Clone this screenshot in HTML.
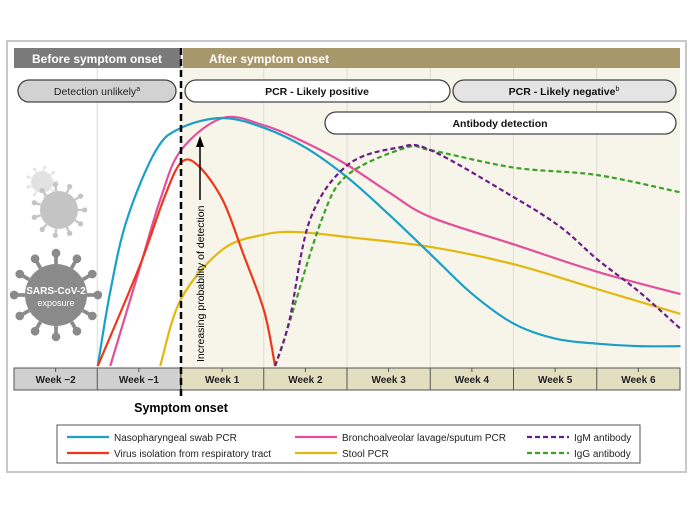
<!DOCTYPE html>
<html><head><meta charset="utf-8"><style>
body{margin:0;background:#fff;font-family:"Liberation Sans",sans-serif}
svg{display:block}
text{font-family:"Liberation Sans",sans-serif}
</style></head><body>
<svg width="700" height="518" viewBox="0 0 700 518">
<rect x="7" y="41" width="679" height="431" fill="#fff" stroke="#c8c8c8" stroke-width="2"/>
<rect x="181" y="68" width="499" height="300" fill="#f7f5e9"/>
<g id="grid"></g>
<rect x="14" y="48" width="167" height="20" fill="#7a7a7a"/>
<rect x="183" y="48" width="497" height="20" fill="#a8976a"/>
<text x="97" y="63" fill="#fff" font-size="12" font-weight="bold" text-anchor="middle">Before symptom onset</text>
<text x="209" y="63" fill="#fff" font-size="12" font-weight="bold">After symptom onset</text>
<g font-size="10.5" text-anchor="middle" stroke-width="1.3">
<rect x="18" y="80" width="158" height="22" rx="11" fill="#d2d2d2" stroke="#444"/>
<text x="97" y="95" fill="#222">Detection unlikely<tspan font-size="7" dy="-4">a</tspan></text>
<rect x="185" y="80" width="265" height="22" rx="11" fill="#fff" stroke="#444"/>
<text x="317" y="95" fill="#111" font-weight="bold">PCR - Likely positive</text>
<rect x="453" y="80" width="223" height="22" rx="11" fill="#e4e4e4" stroke="#444"/>
<text x="564" y="95" fill="#111" font-weight="bold">PCR - Likely negative<tspan font-size="7" font-weight="normal" dy="-4">b</tspan></text>
<rect x="325" y="112" width="351" height="22" rx="11" fill="#fff" stroke="#444"/>
<text x="500" y="127" fill="#111" font-weight="bold">Antibody detection</text>
</g>
<g id="virus"></g>
<g id="curves"></g>
<rect x="14" y="368" width="167" height="22" fill="#d0d0d0" stroke="#555"/>
<rect x="181" y="368" width="499" height="22" fill="#e4dec0" stroke="#555"/>
<g id="axis"></g>
<line x1="181" y1="48" x2="181" y2="400" stroke="#000" stroke-width="2.5" stroke-dasharray="7,4"/>
<text x="181" y="412" font-size="12.5" font-weight="bold" text-anchor="middle">Symptom onset</text>
<line x1="200" y1="200" x2="200" y2="145" stroke="#000" stroke-width="1.5"/>
<polygon points="200,136 196,147 204,147" fill="#000"/>
<text transform="translate(204,362) rotate(-90)" font-size="10.5">Increasing probability of detection</text>
<rect x="57" y="425" width="583" height="38" fill="#fff" stroke="#555" stroke-width="1"/>
<g id="legend" font-size="10"></g>
</svg>
<script>
const weeks=["Week \u22122","Week \u22121","Week 1","Week 2","Week 3","Week 4","Week 5","Week 6"];
const nasoT=[-1,-0.85,-0.65,-0.3,0,0.5,1,1.5,2,2.5,3,3.5,4,4.5,5,5.5,6];
const nasoV=[0,30,59,87,96,100,96,88,76,61,45,29,17,11,9,8,8];
const balT=[-0.85,-0.5,-0.25,0,0.5,1,1.5,2,2.5,3,4,5,6];
const balV=[0,39,67,87,100,97,90,81,70,60,49,38,29];
const virT=[-1,-0.5,-0.2,0,0.2,0.5,0.75,1,1.13];
const virV=[0,40,68,82,81,67,45,22,0];
const stoolT=[-0.25,0,0.5,1,1.4,2,3,4,5,6];
const stoolV=[0,27,47,53,54,52,48,41,31,21];
const igmT=[1.13,1.3,1.55,2,2.6,3,4,4.56,5,5.5,6];
const igmV=[0,18,59,81,88,87,68,56,43,30,15];
const iggT=[1.13,1.27,1.69,2,2.7,3,4,5,6];
const iggV=[0,14,59,77,88,87,80,77,70];
const NS="http://www.w3.org/2000/svg";
const xs=t=>181+t*83.25;
const ys=v=>366-v*2.48;
function mk(tag,attrs,parent){const e=document.createElementNS(NS,tag);for(const k in attrs)e.setAttribute(k,attrs[k]);parent.appendChild(e);return e;}
function path(T,V){const p=T.map((t,i)=>[xs(t),ys(V[i])]);let d="M"+p[0][0]+","+p[0][1];
for(let i=0;i<p.length-1;i++){const p0=p[i-1]||p[i],p1=p[i],p2=p[i+1],p3=p[i+2]||p2;
const c1=[p1[0]+(p2[0]-p0[0])/6,p1[1]+(p2[1]-p0[1])/6],c2=[p2[0]-(p3[0]-p1[0])/6,p2[1]-(p3[1]-p1[1])/6];
d+=` C${c1[0]},${c1[1]} ${c2[0]},${c2[1]} ${p2[0]},${p2[1]}`;}return d;}
const grid=document.getElementById('grid');
for(let i=1;i<8;i++){if(i===2)continue;const l=mk('line',{x1:14+i*83.25,x2:14+i*83.25,y1:68,y2:368,stroke:'#dcdcd6','stroke-width':1},grid);

}
const axis=document.getElementById('axis');
weeks.forEach((w,i)=>{const cx=14+(i+0.5)*83.25;
if(i>0){const s=mk('line',{x1:14+i*83.25,x2:14+i*83.25,y1:368,y2:390,stroke:'#555'},axis);}
const tk=mk('line',{x1:cx,x2:cx,y1:368,y2:372,stroke:'#555'},axis);


const t=mk('text',{x:cx,y:383,'font-size':10,'text-anchor':'middle','font-weight':'bold',fill:'#222'},axis);t.textContent=w;

});
const curves=document.getElementById('curves');
const series=[[stoolT,stoolV,'#e2b80f',null,'stool-pcr-curve'],[balT,balV,'#e2509b',null,'bal-sputum-pcr-curve'],[nasoT,nasoV,'#1aa0c8',null,'nasopharyngeal-pcr-curve'],[virT,virV,'#f0361a',null,'virus-isolation-curve'],[iggT,iggV,'#3aa028','5,3','igg-antibody-curve'],[igmT,igmV,'#6a1e8a','5,3','igm-antibody-curve']];
series.forEach(s=>{const a={d:path(s[0],s[1]),fill:'none',stroke:s[2],'stroke-width':2.2};if(s[3])a['stroke-dasharray']=s[3];
const e=mk('path',a,curves);

});
const lg=document.getElementById('legend');
const items=[[67,437,'#1aa0c8',null,'Nasopharyngeal swab PCR'],[67,453,'#f0361a',null,'Virus isolation from respiratory tract'],[295,437,'#e2509b',null,'Bronchoalveolar lavage/sputum PCR'],[295,453,'#e2b80f',null,'Stool PCR'],[527,437,'#6a1e8a','5,3','IgM antibody'],[527,453,'#3aa028','5,3','IgG antibody']];
items.forEach(it=>{const a={x1:it[0],x2:it[0]+42,y1:it[1],y2:it[1],stroke:it[2],'stroke-width':2.2};if(it[3])a['stroke-dasharray']=it[3];
const l=mk('line',a,lg);


const t=mk('text',{x:it[0]+47,y:it[1]+4,fill:'#222'},lg);t.textContent=it[4];

});
const vg=document.getElementById('virus');
function virus(cx,cy,r,col,n){const g=mk('g',{fill:col},vg);mk('circle',{cx,cy,r},g);
for(let i=0;i<n;i++){const a=i*2*Math.PI/n;const x1=cx+Math.cos(a)*r,y1=cy+Math.sin(a)*r,x2=cx+Math.cos(a)*r*1.35,y2=cy+Math.sin(a)*r*1.35;
mk('line',{x1,y1,x2,y2,stroke:col,'stroke-width':r*0.12},g);mk('circle',{cx:x2,cy:y2,r:r*0.14},g);}return g;}
virus(42,182,11,'#e2e2e2',9);virus(59,210,19,'#c4c4c4',11);virus(56,295,31,'#8a8a8a',12);
const t1=mk('text',{x:56,y:294,fill:'#fff','font-size':10,'font-weight':'bold','text-anchor':'middle'},vg);t1.textContent='SARS-CoV-2';


const t2=mk('text',{x:56,y:306,fill:'#fff','font-size':9,'text-anchor':'middle'},vg);t2.textContent='exposure';


</script>
</body></html>
